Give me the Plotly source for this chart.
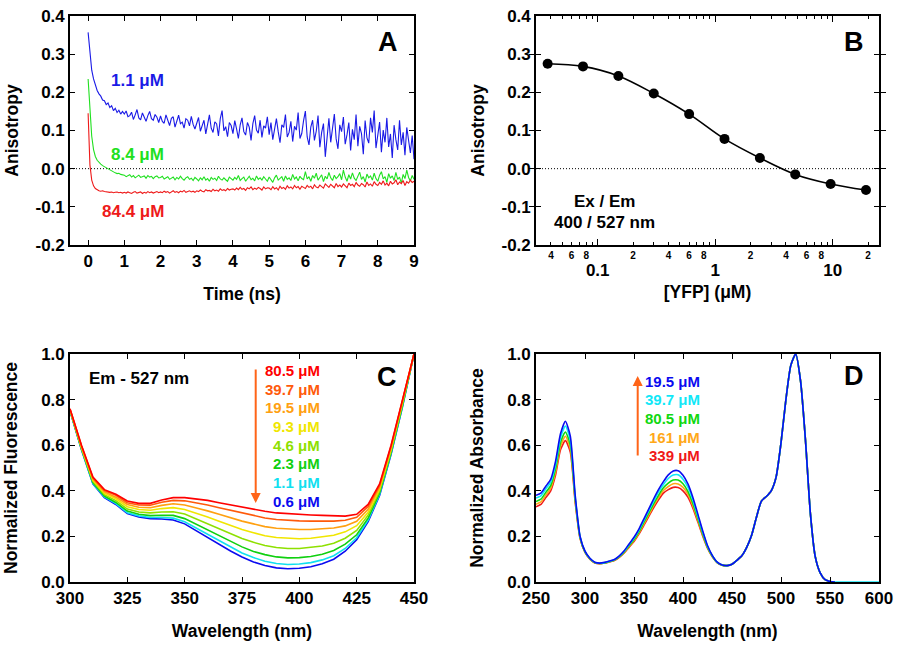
import plotly.graph_objects as go

FONT = "Liberation Sans, Arial, sans-serif"

# ---------------- Panel A : time-resolved anisotropy ----------------
time_step_ns = 0.05
n_time = 181
time_ns = [round(i * time_step_ns, 2) for i in range(n_time)]

aniso_1p1 = [
    0.357, 0.300, 0.258, 0.235, 0.218, 0.205, 0.196, 0.190, 0.180, 0.178, 0.168, 0.172, 0.160, 0.165, 0.152, 0.158, 0.147, 0.153, 0.143, 0.150,
    0.143, 0.151, 0.136, 0.139, 0.148, 0.129, 0.141, 0.155, 0.133, 0.128, 0.146, 0.137, 0.124, 0.139, 0.150, 0.131, 0.127, 0.142, 0.135, 0.121,
    0.138, 0.124, 0.119, 0.141, 0.127, 0.113, 0.132, 0.136, 0.109, 0.125, 0.140, 0.118, 0.122, 0.106, 0.131, 0.127, 0.112, 0.137, 0.116, 0.104,
    0.121, 0.134, 0.098, 0.112, 0.127, 0.091, 0.118, 0.141, 0.106, 0.095, 0.123, 0.117, 0.086, 0.131, 0.152, 0.099, 0.110, 0.084, 0.121, 0.113,
    0.092, 0.126, 0.104, 0.079, 0.115, 0.133, 0.097, 0.088, 0.121, 0.109, 0.074, 0.118, 0.139, 0.101, 0.093, 0.127, 0.082, 0.112, 0.106, 0.136,
    0.089, 0.121, 0.076, 0.104, 0.131, 0.097, 0.068, 0.115, 0.108, 0.142, 0.083, 0.095, 0.124, 0.071, 0.111, 0.101, 0.147, 0.079, 0.092, 0.126,
    0.151, 0.083, 0.062, 0.109, 0.127, 0.074, 0.098, 0.139, 0.056, 0.095, 0.118, 0.031, 0.087, 0.132, 0.069, 0.104, 0.143, 0.078, 0.052, 0.115,
    0.097, 0.135, 0.064, 0.089, 0.121, 0.048, 0.103, 0.076, 0.142, 0.059, 0.111, 0.092, 0.038, 0.126, 0.081, 0.067, 0.133, 0.095, 0.152, 0.054,
    0.085, 0.122, 0.043, 0.101, 0.069, 0.133, 0.057, 0.091, 0.028, 0.114, 0.076, 0.049, 0.127, 0.062, 0.095, 0.035, 0.108, 0.071, 0.041, 0.087,
    0.025,
]
aniso_8p4 = [
    0.235, 0.150, 0.085, 0.050, 0.032, 0.022, 0.016, 0.012, 0.008, 0.005, 0.002, 0.000, -0.003, -0.006, -0.009, -0.011, -0.013, -0.012, -0.015, -0.016,
    -0.017, -0.021, -0.019, -0.016, -0.022, -0.018, -0.024, -0.020, -0.017, -0.023, -0.021, -0.019, -0.025, -0.018, -0.022, -0.020, -0.026, -0.021, -0.019, -0.024,
    -0.023, -0.020, -0.027, -0.024, -0.021, -0.028, -0.025, -0.022, -0.029, -0.023, -0.027, -0.020, -0.026, -0.030, -0.024, -0.021, -0.028, -0.025, -0.031, -0.023,
    -0.027, -0.032, -0.024, -0.029, -0.021, -0.030, -0.026, -0.033, -0.023, -0.028, -0.025, -0.031, -0.020, -0.027, -0.030, -0.024, -0.029, -0.033, -0.022, -0.027,
    -0.030, -0.023, -0.028, -0.018, -0.031, -0.026, -0.022, -0.033, -0.027, -0.020, -0.029, -0.025, -0.032, -0.019, -0.028, -0.024, -0.030, -0.021, -0.027, -0.033,
    -0.022, -0.028, -0.036, -0.024, -0.017, -0.030, -0.026, -0.021, -0.033, -0.019, -0.028, -0.024, -0.031, -0.015, -0.027, -0.022, -0.032, -0.020, -0.026, -0.029,
    -0.008, -0.027, -0.021, -0.033, -0.018, -0.025, -0.012, -0.030, -0.023, -0.016, -0.034, -0.020, -0.027, -0.010, -0.024, -0.031, -0.017, -0.026, -0.021, -0.013,
    -0.029, -0.004, -0.022, -0.033, -0.016, -0.027, -0.011, -0.025, -0.031, -0.018, -0.009, -0.028, -0.021, -0.035, -0.014, -0.024, -0.019, -0.030, -0.012, -0.026,
    -0.033, -0.017, -0.008, -0.027, -0.021, -0.036, -0.013, -0.025, -0.019, -0.031, -0.010, -0.028, -0.022, -0.038, -0.015, -0.026, -0.004, -0.023, -0.032, -0.018,
    -0.028,
]
aniso_84p4 = [
    0.145, 0.010, -0.030, -0.045, -0.052, -0.056, -0.058, -0.059, -0.058, -0.060, -0.061, -0.060, -0.062, -0.061, -0.063, -0.062, -0.061, -0.063, -0.062, -0.064,
    -0.062, -0.064, -0.061, -0.063, -0.065, -0.062, -0.060, -0.064, -0.063, -0.061, -0.065, -0.062, -0.064, -0.060, -0.063, -0.061, -0.064, -0.062, -0.060, -0.063,
    -0.061, -0.063, -0.059, -0.062, -0.060, -0.064, -0.061, -0.058, -0.062, -0.060, -0.063, -0.059, -0.061, -0.057, -0.062, -0.060, -0.058, -0.061, -0.059, -0.062,
    -0.058, -0.060, -0.056, -0.059, -0.061, -0.055, -0.058, -0.057, -0.060, -0.054, -0.058, -0.056, -0.059, -0.053, -0.057, -0.055, -0.058, -0.052, -0.056, -0.054,
    -0.053, -0.056, -0.051, -0.055, -0.049, -0.054, -0.052, -0.057, -0.050, -0.053, -0.048, -0.055, -0.051, -0.054, -0.049, -0.052, -0.056, -0.048, -0.053, -0.050,
    -0.051, -0.055, -0.047, -0.053, -0.050, -0.056, -0.046, -0.052, -0.049, -0.054, -0.045, -0.051, -0.048, -0.053, -0.044, -0.050, -0.047, -0.054, -0.046, -0.049,
    -0.052, -0.044, -0.049, -0.046, -0.053, -0.042, -0.048, -0.050, -0.043, -0.047, -0.051, -0.040, -0.046, -0.049, -0.041, -0.045, -0.050, -0.039, -0.047, -0.043,
    -0.048, -0.040, -0.045, -0.050, -0.038, -0.044, -0.041, -0.047, -0.036, -0.043, -0.046, -0.039, -0.042, -0.048, -0.035, -0.044, -0.040, -0.046, -0.034, -0.041,
    -0.044, -0.036, -0.041, -0.032, -0.043, -0.038, -0.045, -0.033, -0.040, -0.037, -0.029, -0.042, -0.035, -0.039, -0.031, -0.044, -0.034, -0.038, -0.030, -0.036,
    -0.033,
]
a_time_ticks = [0, 1, 2, 3, 4, 5, 6, 7, 8, 9]
aniso_ticks = [-0.2, -0.1, 0.0, 0.1, 0.2, 0.3, 0.4]
aniso_ticktext = ["-0.2", "-0.1", "0.0", "0.1", "0.2", "0.3", "0.4"]

# ---------------- Panel B : steady-state anisotropy vs [YFP] ----------------
yfp_uM = [0.0375, 0.075, 0.15, 0.30, 0.60, 1.2, 2.4, 4.8, 9.6, 19.2]
aniso_ss = [0.275, 0.268, 0.243, 0.197, 0.143, 0.078, 0.028, -0.015, -0.040, -0.056]
b_minor_vals = [0.04, 0.05, 0.06, 0.07, 0.08, 0.09,
                0.2, 0.3, 0.4, 0.5, 0.6, 0.7, 0.8, 0.9,
                2, 3, 4, 5, 6, 7, 8, 9, 20]
b_minor_text = ["4", "", "6", "", "8", "",
                "2", "", "4", "", "6", "", "8", "",
                "2", "", "4", "", "6", "", "8", "", "2"]
b_major_vals = [0.1, 1, 10]
b_major_text = ["0.1", "1", "10"]

# ---------------- Panel C : normalized excitation (fluorescence) ----------------
wl_c = [300, 305, 310, 315, 320, 325, 330, 335, 340, 345, 350, 355, 360, 365, 370, 375,
        380, 385, 390, 395, 400, 405, 410, 415, 420, 425, 430, 435, 440, 445, 450]
fl_80p5 = [0.760, 0.600, 0.460, 0.405, 0.385, 0.355, 0.345, 0.345, 0.360, 0.370, 0.370, 0.365, 0.358, 0.348, 0.338, 0.328,
           0.320, 0.310, 0.303, 0.299, 0.296, 0.294, 0.292, 0.290, 0.289, 0.297, 0.340, 0.430, 0.600, 0.800, 1.000]
fl_39p7 = [0.759, 0.598, 0.456, 0.401, 0.380, 0.348, 0.338, 0.337, 0.350, 0.358, 0.356, 0.348, 0.338, 0.326, 0.314, 0.302,
           0.292, 0.281, 0.274, 0.270, 0.268, 0.267, 0.267, 0.267, 0.271, 0.284, 0.331, 0.424, 0.595, 0.796, 1.000]
fl_19p5 = [0.757, 0.594, 0.452, 0.395, 0.372, 0.340, 0.328, 0.326, 0.336, 0.343, 0.338, 0.326, 0.312, 0.297, 0.281, 0.267,
           0.255, 0.243, 0.236, 0.232, 0.230, 0.230, 0.233, 0.237, 0.246, 0.266, 0.319, 0.416, 0.589, 0.792, 1.000]
fl_9p3 = [0.755, 0.591, 0.447, 0.389, 0.365, 0.330, 0.318, 0.315, 0.322, 0.326, 0.318, 0.302, 0.285, 0.266, 0.247, 0.230,
          0.216, 0.203, 0.195, 0.191, 0.190, 0.192, 0.197, 0.205, 0.220, 0.247, 0.306, 0.408, 0.582, 0.787, 1.000]
fl_4p6 = [0.754, 0.587, 0.441, 0.383, 0.357, 0.320, 0.307, 0.303, 0.307, 0.308, 0.298, 0.277, 0.255, 0.233, 0.211, 0.191,
          0.174, 0.160, 0.151, 0.147, 0.147, 0.151, 0.158, 0.170, 0.192, 0.226, 0.293, 0.399, 0.575, 0.781, 1.000]
fl_2p3 = [0.752, 0.584, 0.436, 0.377, 0.349, 0.311, 0.297, 0.291, 0.293, 0.292, 0.278, 0.253, 0.228, 0.202, 0.176, 0.154,
          0.134, 0.120, 0.110, 0.106, 0.107, 0.112, 0.122, 0.138, 0.166, 0.207, 0.280, 0.390, 0.568, 0.776, 1.000]
fl_1p1 = [0.751, 0.582, 0.432, 0.373, 0.344, 0.304, 0.290, 0.283, 0.283, 0.280, 0.264, 0.236, 0.208, 0.180, 0.152, 0.127,
          0.107, 0.091, 0.081, 0.077, 0.079, 0.085, 0.097, 0.115, 0.147, 0.194, 0.271, 0.384, 0.563, 0.772, 1.000]
fl_0p6 = [0.750, 0.580, 0.430, 0.370, 0.340, 0.300, 0.285, 0.278, 0.276, 0.272, 0.255, 0.225, 0.195, 0.165, 0.136, 0.110,
          0.088, 0.072, 0.062, 0.058, 0.060, 0.067, 0.080, 0.100, 0.135, 0.185, 0.265, 0.380, 0.560, 0.770, 1.000]
c_labels = ["80.5 μM", "39.7 μM", "19.5 μM", "9.3 μM", "4.6 μM", "2.3 μM", "1.1 μM", "0.6 μM"]
c_colors = ["#ff0000", "#ff5a0a", "#ffa010", "#f0e600", "#8ee000", "#10d010", "#10e0f0", "#0a0af0"]

# ---------------- Panel D : normalized absorbance ----------------
wl_d = [250, 255, 260, 265, 270, 275, 280, 285, 290, 295, 300, 305, 310, 315, 320, 325, 330, 335, 340, 345,
        350, 355, 360, 365, 370, 375, 380, 385, 390, 395, 400, 405, 410, 415, 420, 425, 430, 435, 440, 445,
        450, 455, 460, 465, 470, 475, 480, 485, 490, 495, 500, 505, 510, 515, 520, 525, 530, 535, 540, 545,
        550, 555, 560, 565, 570, 575, 580, 585, 590, 595, 600]
abs_339 = [0.330, 0.340, 0.370, 0.400, 0.470, 0.580, 0.620, 0.570, 0.350, 0.190, 0.130, 0.100, 0.083, 0.080, 0.083, 0.088, 0.094, 0.108, 0.127, 0.153,
           0.178, 0.210, 0.248, 0.287, 0.325, 0.360, 0.390, 0.405, 0.415, 0.414, 0.400, 0.372, 0.325, 0.265, 0.203, 0.148, 0.110, 0.084, 0.074, 0.072,
           0.078, 0.095, 0.115, 0.152, 0.205, 0.285, 0.355, 0.375, 0.400, 0.460, 0.610, 0.800, 0.950, 1.000, 0.880, 0.620, 0.300, 0.110, 0.040, 0.010,
           0.002, 0.000]
abs_161 = [0.341, 0.351, 0.381, 0.411, 0.483, 0.595, 0.639, 0.585, 0.357, 0.192, 0.131, 0.101, 0.084, 0.081, 0.084, 0.089, 0.095, 0.110, 0.129, 0.156,
           0.182, 0.215, 0.254, 0.294, 0.334, 0.370, 0.401, 0.419, 0.431, 0.430, 0.415, 0.385, 0.335, 0.273, 0.208, 0.151, 0.111, 0.085, 0.074, 0.072,
           0.078, 0.095, 0.115, 0.152, 0.205, 0.285, 0.355, 0.375, 0.400, 0.460, 0.610, 0.800, 0.950, 1.000, 0.880, 0.620, 0.300, 0.110, 0.040, 0.010,
           0.002, 0.000]
abs_80p5 = [0.353, 0.363, 0.393, 0.423, 0.497, 0.612, 0.658, 0.602, 0.364, 0.195, 0.132, 0.102, 0.085, 0.081, 0.084, 0.090, 0.096, 0.111, 0.132, 0.159,
            0.186, 0.220, 0.261, 0.302, 0.343, 0.380, 0.413, 0.434, 0.447, 0.447, 0.431, 0.398, 0.346, 0.281, 0.213, 0.153, 0.113, 0.085, 0.074, 0.072,
            0.078, 0.095, 0.115, 0.152, 0.205, 0.285, 0.355, 0.375, 0.400, 0.460, 0.610, 0.800, 0.950, 1.000, 0.880, 0.620, 0.300, 0.110, 0.040, 0.010,
            0.002, 0.000]
abs_39p7 = [0.368, 0.378, 0.408, 0.438, 0.515, 0.633, 0.684, 0.623, 0.373, 0.198, 0.134, 0.103, 0.086, 0.082, 0.085, 0.091, 0.098, 0.113, 0.135, 0.164,
            0.192, 0.227, 0.269, 0.312, 0.354, 0.394, 0.428, 0.454, 0.469, 0.470, 0.451, 0.416, 0.360, 0.291, 0.220, 0.157, 0.115, 0.086, 0.075, 0.072,
            0.078, 0.095, 0.115, 0.152, 0.205, 0.285, 0.355, 0.375, 0.400, 0.460, 0.610, 0.800, 0.950, 1.000, 0.880, 0.620, 0.300, 0.110, 0.040, 0.010,
            0.002, 0.000, 0.000, 0.000, 0.000, 0.000, 0.000, 0.000, 0.000, 0.000, 0.000]
abs_19p5 = [0.380, 0.390, 0.420, 0.450, 0.530, 0.650, 0.705, 0.640, 0.380, 0.200, 0.135, 0.104, 0.087, 0.083, 0.086, 0.092, 0.099, 0.115, 0.137, 0.167,
            0.196, 0.232, 0.276, 0.320, 0.364, 0.405, 0.440, 0.470, 0.487, 0.488, 0.468, 0.430, 0.372, 0.300, 0.226, 0.160, 0.116, 0.087, 0.075, 0.072,
            0.078, 0.095, 0.115, 0.152, 0.205, 0.285, 0.355, 0.375, 0.400, 0.460, 0.610, 0.800, 0.950, 1.000, 0.880, 0.620, 0.300, 0.110, 0.040, 0.010,
            0.002, 0.000]
d_labels = ["19.5 μM", "39.7 μM", "80.5 μM", "161 μM", "339 μM"]
d_colors = ["#0a0af0", "#10e8f8", "#10d810", "#ffa818", "#f01818"]

# ---------------- figure ----------------
W, H = 900, 650


def px(x):
    return x / W


def py(y):
    return 1 - y / H


BLACK = "black"
tickfont = dict(family=FONT, size=17, color=BLACK, weight="bold")
titlefont = dict(family=FONT, size=17.5, color=BLACK, weight="bold")

fig = go.Figure()

# Panel A traces
fig.add_trace(go.Scatter(x=time_ns, y=aniso_1p1, mode="lines", line=dict(color="#1a1ae6", width=1.1),
                         xaxis="x", yaxis="y", showlegend=False))
fig.add_trace(go.Scatter(x=time_ns, y=aniso_8p4, mode="lines", line=dict(color="#20e020", width=1.1),
                         xaxis="x", yaxis="y", showlegend=False))
fig.add_trace(go.Scatter(x=time_ns, y=aniso_84p4, mode="lines", line=dict(color="#ee1a1a", width=1.1),
                         xaxis="x", yaxis="y", showlegend=False))

# Panel B trace (plus a transparent copy on the overlaid decade axis so it is drawn)
fig.add_trace(go.Scatter(x=yfp_uM, y=aniso_ss, mode="lines+markers", line=dict(color=BLACK, width=1.6, shape="spline"),
                         marker=dict(color=BLACK, size=10), xaxis="x2", yaxis="y2", showlegend=False))
fig.add_trace(go.Scatter(x=yfp_uM, y=aniso_ss, mode="markers", opacity=0, hoverinfo="skip",
                         marker=dict(color=BLACK, size=10), xaxis="x5", yaxis="y2", showlegend=False))

# Panel C traces (top curve drawn last)
c_series = [fl_0p6, fl_1p1, fl_2p3, fl_4p6, fl_9p3, fl_19p5, fl_39p7, fl_80p5]
c_series_colors = list(reversed(c_colors))
for vals, col in zip(c_series, c_series_colors):
    fig.add_trace(go.Scatter(x=wl_c, y=vals, mode="lines", line=dict(color=col, width=1.6),
                             xaxis="x3", yaxis="y3", showlegend=False))

# Panel D traces
d_series = [(abs_339, d_colors[4]), (abs_161, d_colors[3]), (abs_80p5, d_colors[2]),
            (abs_39p7, d_colors[1]), (abs_19p5, d_colors[0])]
for vals, col in d_series:
    fig.add_trace(go.Scatter(x=wl_d[:len(vals)], y=vals, mode="lines",
                             line=dict(color=col, width=1.6, shape="spline", smoothing=0.6),
                             xaxis="x4", yaxis="y4", showlegend=False))

dom_x_left = [px(70), px(414)]
dom_x_right = [px(536), px(879)]
dom_y_top = [py(245), py(16)]
dom_y_bot = [py(582), py(354)]

common_axis = dict(showline=True, linecolor=BLACK, linewidth=1.6, mirror="allticks", ticks="inside",
                   ticklen=5, tickwidth=1.4, tickcolor=BLACK, showgrid=False, zeroline=False,
                   tickfont=tickfont, fixedrange=True, automargin=False)

fig.update_layout(
    template="none",
    width=W, height=H, margin=dict(l=0, r=0, t=0, b=0, autoexpand=False),
    paper_bgcolor="white", plot_bgcolor="white", showlegend=False,
    xaxis=dict(domain=dom_x_left, anchor="y", range=[-0.5, 9], tickvals=a_time_ticks,
               title=dict(text="Time (ns)", font=titlefont, standoff=18), **common_axis),
    yaxis=dict(domain=dom_y_top, anchor="x", range=[-0.2, 0.4], tickvals=aniso_ticks, ticktext=aniso_ticktext,
               title=dict(text="Anisotropy", font=titlefont, standoff=12), **common_axis),
    xaxis2=dict(domain=dom_x_right, anchor="y2", type="log", range=[-1.525, 1.394],
                tickvals=b_minor_vals, ticktext=b_minor_text,
                title=dict(text="[YFP] (μM)", font=titlefont, standoff=26),
                **{**common_axis, "ticklen": 3, "tickfont": dict(family=FONT, size=10, color=BLACK, weight="bold")}),
    xaxis5=dict(overlaying="x2", anchor="y2", type="log", range=[-1.525, 1.394],
                tickvals=b_major_vals, ticktext=b_major_text, ticklabelstandoff=9,
                **{**common_axis, "ticklen": 6}),
    yaxis2=dict(domain=dom_y_top, anchor="x2", range=[-0.2, 0.4], tickvals=aniso_ticks, ticktext=aniso_ticktext,
                title=dict(text="Anisotropy", font=titlefont, standoff=12), **common_axis),
    xaxis3=dict(domain=dom_x_left, anchor="y3", range=[300, 450], tickvals=[300, 325, 350, 375, 400, 425, 450],
                title=dict(text="Wavelength (nm)", font=titlefont, standoff=18), **common_axis),
    yaxis3=dict(domain=dom_y_bot, anchor="x3", range=[0, 1.0], tickvals=[0, 0.2, 0.4, 0.6, 0.8, 1.0],
                ticktext=["0.0", "0.2", "0.4", "0.6", "0.8", "1.0"],
                title=dict(text="Normalized Fluorescence", font=titlefont, standoff=19), **common_axis),
    xaxis4=dict(domain=dom_x_right, anchor="y4", range=[250, 600], tickvals=[250, 300, 350, 400, 450, 500, 550, 600],
                title=dict(text="Wavelength (nm)", font=titlefont, standoff=18), **common_axis),
    yaxis4=dict(domain=dom_y_bot, anchor="x4", range=[0, 1.0], tickvals=[0, 0.2, 0.4, 0.6, 0.8, 1.0],
                ticktext=["0.0", "0.2", "0.4", "0.6", "0.8", "1.0"],
                title=dict(text="Normalized Absorbance", font=titlefont, standoff=19), **common_axis),
)

# zero reference lines
for xr, yr in [("x", "y"), ("x2", "y2")]:
    fig.add_shape(type="line", xref=f"{xr} domain", yref=yr, x0=0, x1=1, y0=0, y1=0,
                  line=dict(color=BLACK, width=1, dash="1px,2px"), layer="below")


def ann(text, x, y, color=BLACK, size=17, xanchor="center"):
    fig.add_annotation(text=text, x=px(x), y=py(y), xref="paper", yref="paper", showarrow=False,
                       xanchor=xanchor, yanchor="middle",
                       font=dict(family=FONT, size=size, color=color, weight="bold"))


# panel letters
ann("A", 388, 42, size=27)
ann("B", 854, 42, size=27)
ann("C", 387, 377, size=27)
ann("D", 854, 376, size=27)

# panel A labels
ann("1.1 μM", 166, 81, color="#1a1ae6", xanchor="right")
ann("8.4 μM", 166, 154, color="#20e020", xanchor="right")
ann("84.4 μM", 166, 212, color="#ee1a1a", xanchor="right")

# panel B labels
ann("Ex / Em", 604, 202)
ann("400 / 527 nm", 604, 222)

# panel C labels
ann("Em - 527 nm", 87, 378, xanchor="left")
c_label_y = [370, 389, 407.5, 426, 445, 463.5, 482, 501]
for lab, col, yy in zip(c_labels, c_colors, c_label_y):
    ann(lab, 322, yy, color=col, size=15, xanchor="right")
fig.add_annotation(x=px(255.7), y=py(503), xref="paper", yref="paper", ax=0, ay=-135,
                   text="", showarrow=True, arrowhead=2, arrowsize=1, arrowwidth=2, arrowcolor="#ff6418")

# panel D labels
d_label_y = [381, 399.5, 418, 437, 455.5]
for lab, col, yy in zip(d_labels, d_colors, d_label_y):
    ann(lab, 702, yy, color=col, size=15, xanchor="right")
fig.add_annotation(x=px(637.7), y=py(376), xref="paper", yref="paper", ax=0, ay=81,
                   text="", showarrow=True, arrowhead=2, arrowsize=1, arrowwidth=2, arrowcolor="#ff6418")

fig.write_html("out.html", config={"displayModeBar": False},
               post_script="document.body.style.margin='0';document.body.style.padding='0';")
